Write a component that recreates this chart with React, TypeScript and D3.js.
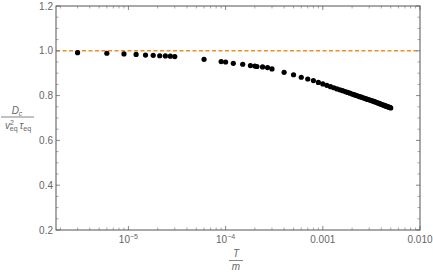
import React from "react";
import * as d3 from "d3";

const xValues: number[] = [
  3e-6, 6e-6, 9e-6, 1.2e-5, 1.5e-5, 1.8e-5, 2.1e-5, 2.4e-5, 2.7e-5, 3e-5,
  6e-5, 9e-5, 1e-4, 1.2e-4, 1.5e-4, 1.8e-4, 2e-4, 2.1e-4, 2.4e-4, 2.7e-4, 3e-4,
  4e-4, 5e-4, 6e-4, 7e-4, 8e-4,
  9e-4, 1.0e-3, 1.1e-3, 1.2e-3, 1.3e-3, 1.4e-3, 1.5e-3, 1.6e-3, 1.7e-3, 1.8e-3, 1.9e-3,
  2.0e-3, 2.1e-3, 2.2e-3, 2.3e-3, 2.4e-3, 2.5e-3, 2.6e-3, 2.7e-3, 2.8e-3, 2.9e-3,
  3.0e-3, 3.1e-3, 3.2e-3, 3.3e-3, 3.4e-3, 3.5e-3, 3.6e-3, 3.7e-3, 3.8e-3, 3.9e-3,
  4.0e-3, 4.1e-3, 4.2e-3, 4.3e-3, 4.4e-3, 4.5e-3, 4.6e-3, 4.7e-3, 4.8e-3, 4.9e-3, 5.0e-3,
];
const yValues: number[] = [
  0.9915, 0.989, 0.986, 0.984, 0.981, 0.98, 0.978, 0.977, 0.976, 0.974,
  0.962, 0.952, 0.95, 0.944, 0.94, 0.934, 0.932, 0.93, 0.928, 0.925, 0.919,
  0.904, 0.893, 0.882, 0.874, 0.867,
  0.859, 0.852, 0.846, 0.84, 0.835, 0.83, 0.826, 0.822, 0.818, 0.814, 0.811,
  0.807, 0.804, 0.801, 0.798, 0.795, 0.793, 0.79, 0.788, 0.785, 0.783,
  0.781, 0.779, 0.777, 0.775, 0.773, 0.771, 0.769, 0.767, 0.765, 0.763,
  0.761, 0.759, 0.758, 0.756, 0.754, 0.753, 0.751, 0.75, 0.748, 0.747, 0.745,
];
const yTicks: number[] = [0.2, 0.4, 0.6, 0.8, 1.0, 1.2];
const xMajor: number[] = [1e-5, 1e-4, 1e-3, 1e-2];
const xTickLabels: string[] = ["10|-5", "10|-4", "0.001", "0.010"];
const refLine = 1.0;

const W = 433, H = 274;
const L = 56, R = 420, T = 6, B = 230;

export default function App() {
  const x = d3.scaleLog().domain([Math.pow(10, -5.745), 1e-2]).range([L, R]);
  const y = d3.scaleLinear().domain([0.2, 1.2]).range([B, T]);

  const minorX: number[] = [];
  for (let e = -6; e <= -3; e++) {
    for (let k = 2; k <= 9; k++) {
      const v = k * Math.pow(10, e);
      if (v >= x.domain()[0] && v <= 1e-2) minorX.push(v);
    }
  }
  const minorY: number[] = d3.range(0.2, 1.2001, 0.05).filter(
    (v) => Math.abs(Math.round(v * 5) - v * 5) > 1e-6
  );
  const tickColor = "#888";
  const labelColor = "#666";
  const font = "'Liberation Sans', Arial, sans-serif";

  return (
    <svg width={W} height={H} style={{ position: "absolute", left: 0, top: 0 }} fontFamily={font}>
      <rect x={0} y={0} width={W} height={H} fill="white" />
      {/* ref line */}
      <line x1={L} x2={R} y1={y(refLine)} y2={y(refLine)} stroke="#EE9020" strokeWidth={1.5} strokeDasharray="4,2.5" />
      {/* points */}
      {xValues.map((v, i) => (
        <circle key={i} cx={x(v)} cy={y(yValues[i])} r={2.6} fill="#000" />
      ))}
      {/* ticks */}
      {yTicks.map((v) => (
        <g key={"yt" + v}>
          <line x1={L} x2={L + 4} y1={y(v)} y2={y(v)} stroke={tickColor} />
          <line x1={R} x2={R - 4} y1={y(v)} y2={y(v)} stroke={tickColor} />
          <text x={L - 3} y={y(v) + 3.5} textAnchor="end" fontSize={10} fill={labelColor}>
            {v.toFixed(1)}
          </text>
        </g>
      ))}
      {minorY.map((v) => (
        <g key={"ym" + v}>
          <line x1={L} x2={L + 2.5} y1={y(v)} y2={y(v)} stroke="#aaa" />
          <line x1={R} x2={R - 2.5} y1={y(v)} y2={y(v)} stroke="#aaa" />
        </g>
      ))}
      {xMajor.map((v, i) => {
        const lab = xTickLabels[i];
        const parts = lab.split("|");
        return (
          <g key={"xt" + v}>
            <line x1={x(v)} x2={x(v)} y1={B} y2={B - 4} stroke={tickColor} />
            <line x1={x(v)} x2={x(v)} y1={T} y2={T + 4} stroke={tickColor} />
            {parts.length === 2 ? (
              <text x={x(v)} y={B + 13} textAnchor="middle" fontSize={10} fill={labelColor}>
                {parts[0]}
                <tspan dy={-4} fontSize={7}>{"\u2212" + parts[1].slice(1)}</tspan>
              </text>
            ) : (
              <text x={x(v)} y={B + 13} textAnchor="middle" fontSize={10} fill={labelColor}>
                {lab}
              </text>
            )}
          </g>
        );
      })}
      {minorX.map((v, i) => (
        <g key={"xm" + i}>
          <line x1={x(v)} x2={x(v)} y1={B} y2={B - 2.5} stroke="#aaa" />
          <line x1={x(v)} x2={x(v)} y1={T} y2={T + 2.5} stroke="#aaa" />
        </g>
      ))}
      {/* frame */}
      <rect x={L} y={T} width={R - L} height={B - T} fill="none" stroke="#555" strokeWidth={1} />
      {/* x label */}
      <text x={236} y={257} textAnchor="middle" fontSize={10} fontStyle="italic" fill={labelColor}>T</text>
      <line x1={229} x2={243} y1={260.5} y2={260.5} stroke={labelColor} strokeWidth={0.8} />
      <text x={236} y={270} textAnchor="middle" fontSize={10} fontStyle="italic" fill={labelColor}>m</text>
      {/* y label */}
      <text x={17} y={114} textAnchor="middle" fontSize={10} fill={labelColor}>
        <tspan fontStyle="italic">D</tspan>
        <tspan fontSize={7} dy={2} fontStyle="italic">c</tspan>
      </text>
      <line x1={1} x2={34} y1={117} y2={117} stroke={labelColor} strokeWidth={0.8} />
      <text x={18} y={129} textAnchor="middle" fontSize={10} fill={labelColor}>
        <tspan fontStyle="italic">v</tspan>
        <tspan fontSize={7} dy={-4}>2</tspan>
        <tspan fontSize={7} dx={-4} dy={6}>eq</tspan>
        <tspan fontSize={10} dy={-2} dx={2} fontStyle="italic">τ</tspan>
        <tspan fontSize={7} dy={2}>eq</tspan>
      </text>
    </svg>
  );
}
